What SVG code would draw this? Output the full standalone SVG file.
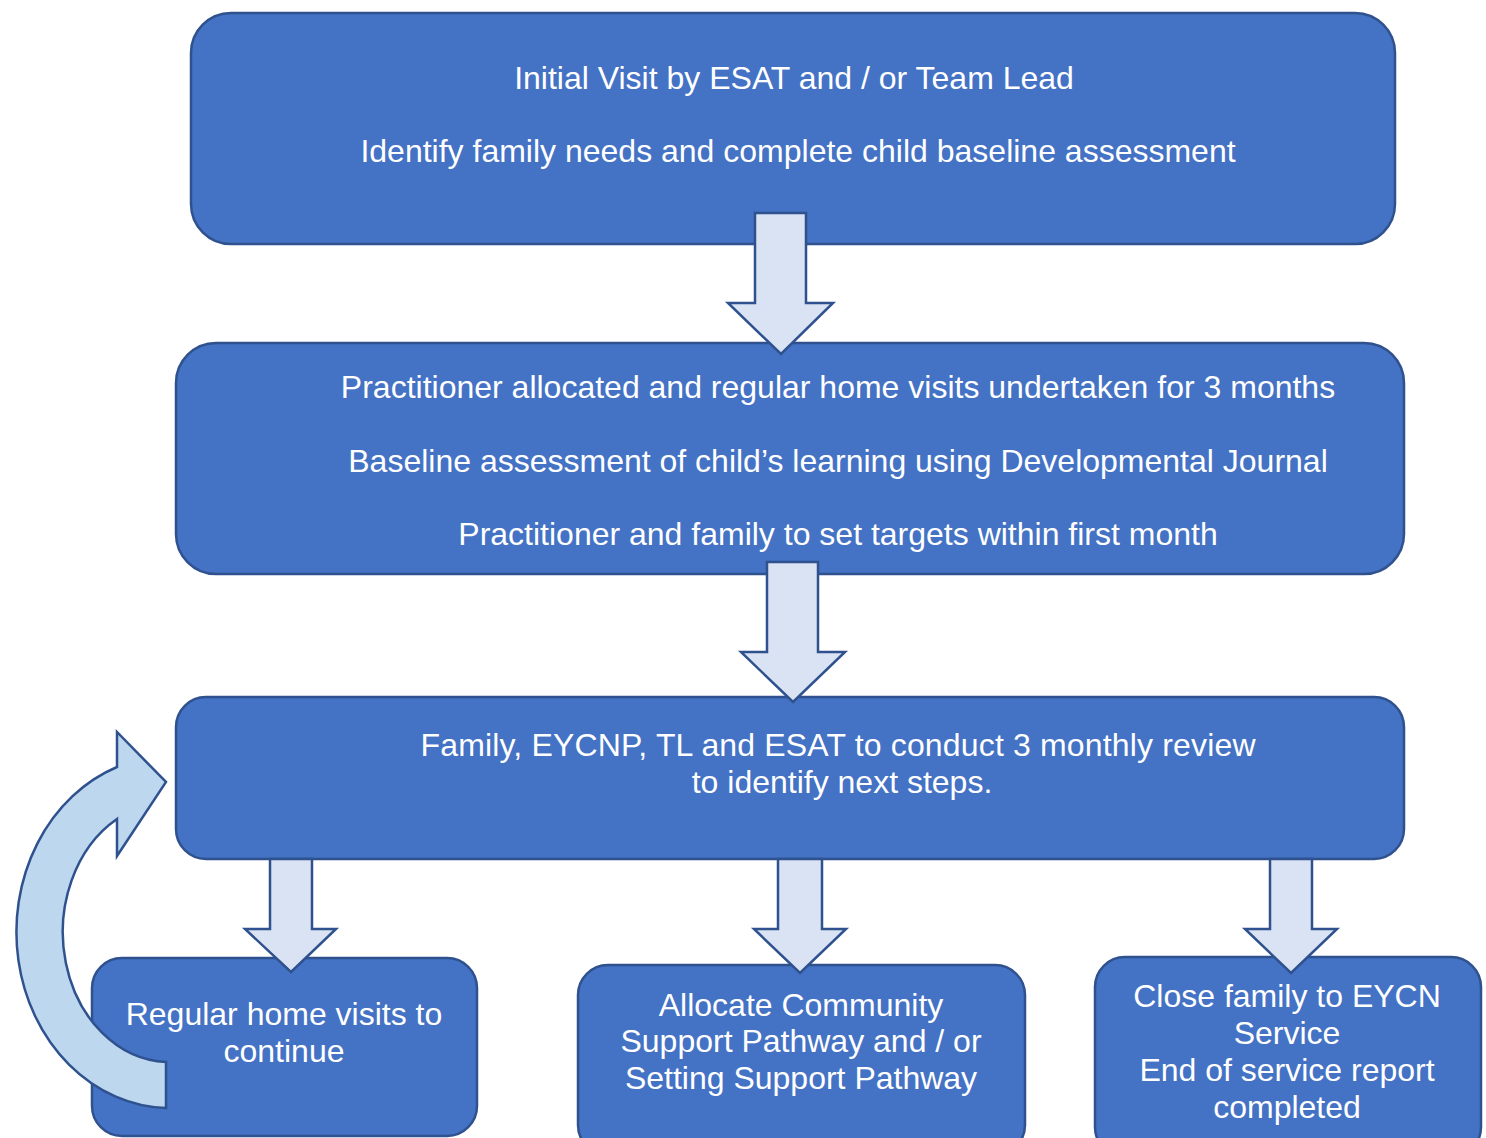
<svg xmlns="http://www.w3.org/2000/svg" width="1486" height="1138" viewBox="0 0 1486 1138">
<style>
.box{fill:#4472C4;stroke:#2F528F;stroke-width:2.5}
.arr{fill:#DAE3F3;stroke:#2F528F;stroke-width:2.5;stroke-linejoin:miter}
.curve{fill:#BDD7EE;stroke:#2F528F;stroke-width:2.5}
text{font-family:"Liberation Sans",Arial,sans-serif;font-size:32px;fill:#FFFFFF;text-anchor:middle}
</style>
<rect width="1486" height="1138" fill="#FFFFFF"/>
<g id="node-initial">
<rect class="box" x="191" y="13" width="1204" height="231" rx="40" ry="40"/>
<text x="794" y="89">Initial Visit by ESAT and / or Team Lead</text>
<text x="798" y="162">Identify family needs and complete child baseline assessment</text>
</g>
<g id="node-practitioner">
<rect class="box" x="176" y="343" width="1228" height="231" rx="40" ry="40"/>
<text x="838" y="398">Practitioner allocated and regular home visits undertaken for 3 months</text>
<text x="838" y="472">Baseline assessment of child’s learning using Developmental Journal</text>
<text x="838" y="545">Practitioner and family to set targets within first month</text>
</g>
<g id="node-review">
<rect class="box" x="176" y="697" width="1228" height="162" rx="30" ry="30"/>
<text x="838" y="756" textLength="835" lengthAdjust="spacing">Family, EYCNP, TL and ESAT to conduct 3 monthly review</text>
<text x="842" y="793">to identify next steps.</text>
</g>
<g id="node-regular">
<rect class="box" x="92" y="958" width="385" height="178" rx="30" ry="30"/>
<text x="284" y="1025">Regular home visits to</text>
<text x="284" y="1062">continue</text>
</g>
<g id="node-allocate">
<rect class="box" x="578" y="965" width="447" height="190" rx="30" ry="30"/>
<text x="801" y="1016">Allocate Community</text>
<text x="801" y="1052">Support Pathway and / or</text>
<text x="801" y="1089">Setting Support Pathway</text>
</g>
<g id="node-close">
<rect class="box" x="1095" y="957" width="386" height="200" rx="30" ry="30"/>
<text x="1287" y="1007">Close family to EYCN</text>
<text x="1287" y="1044">Service</text>
<text x="1287" y="1081">End of service report</text>
<text x="1287" y="1118">completed</text>
</g>
<g id="connectors">
<path class="arr" d="M755,213 H806 V303 H833 L781,354 L728,303 H755 Z"/>
<path class="arr" d="M767,562 H818 V652 H845 L793,702 L741,652 H767 Z"/>
<path class="arr" d="M270,859 H312 V929 H336 L291,972 L245,929 H270 Z"/>
<path class="arr" d="M778,859 H822 V929 H846 L800,973 L754,929 H778 Z"/>
<path class="arr" d="M1270,859 H1312 V929 H1337 L1291,973 L1245,929 H1270 Z"/>
<path class="curve" d="M166,1108 A154,176 0 0 1 117,767 L117,732 L166,782 L117,856 L117,819 A107,130 0 0 0 166,1062 Z"/>
</g>
</svg>
